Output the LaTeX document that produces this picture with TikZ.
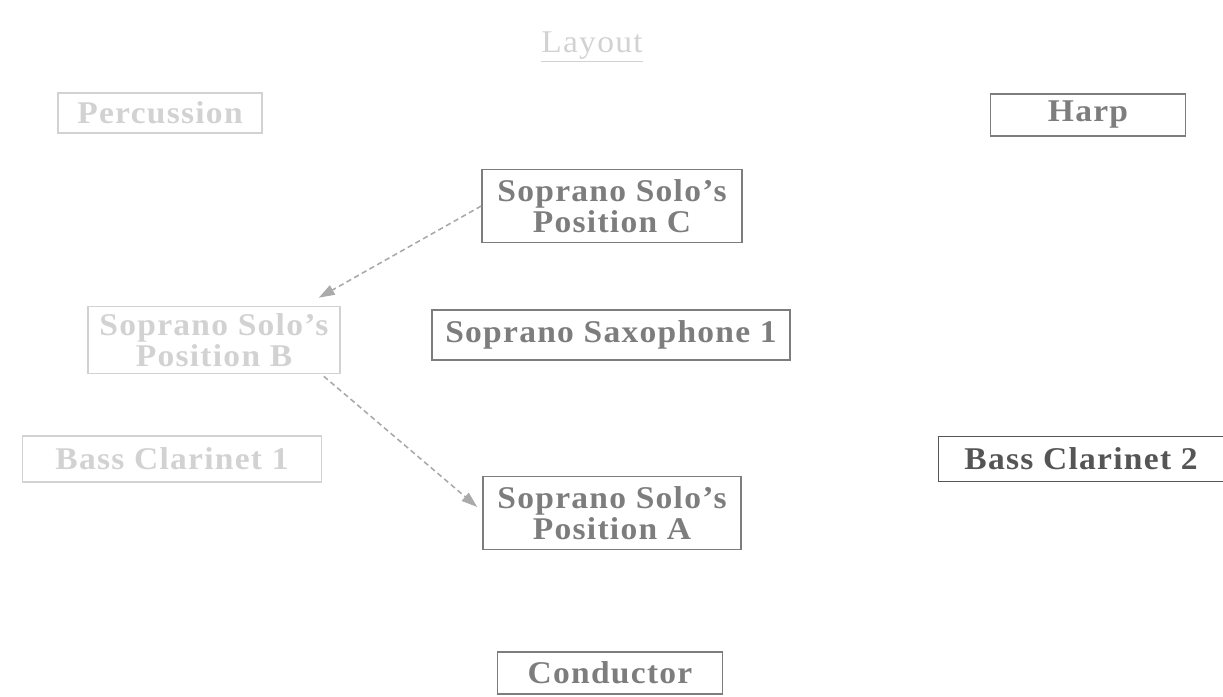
\documentclass[tikz,border=0pt]{standalone}
\usepackage{fontspec}
\setmainfont{Liberation Serif}
\newfontfamily\partfont{Liberation Serif}[FakeStretch=1.06,LetterSpace=4]
\usepackage{tikz}
\usetikzlibrary{calc}
\usetikzlibrary{arrows.meta}
\definecolor{InkDark}{RGB}{85,85,85}
\definecolor{InkMid}{RGB}{125,125,125}
\definecolor{InkPale}{RGB}{170,170,170}
\definecolor{InkFaint}{RGB}{210,210,210}
\tikzset{
	part/.style={draw=#1,text=#1,line width=0.9pt,inner sep=2pt,align=center,
		font=\partfont\bfseries\fontsize{18}{17.5}\selectfont},
	part/.default=InkMid,
	move/.style={draw=InkPale,line width=0.9pt,dash pattern=on 3pt off 2pt,
		-{Triangle[length=9pt,width=6pt]}},
}

\begin{document}
\begin{tikzpicture}[x=0.2mm,y=-0.2mm]
			\useasboundingbox (0,0) rectangle (1223,697);
			\node[InkFaint,font=\partfont\fontsize{18}{21}\selectfont] (layout) at (592,47) {\underline{Layout}};
			\node[part=InkFaint,minimum width=204*0.2mm,minimum height=40*0.2mm] (perc) at (160,113) {Percussion};
			\node[part,minimum width=195*0.2mm,minimum height=42*0.2mm] (harp) at (1088,115) {Harp};
			\node[part,minimum width=260*0.2mm,minimum height=73*0.2mm] (solC) at (612,206) {Soprano Solo’s\\Position C};
			\node[part=InkFaint,minimum width=252*0.2mm,minimum height=67*0.2mm] (solB) at (214,340) {Soprano Solo’s\\Position B};
			\node[part,minimum width=358*0.2mm,minimum height=50*0.2mm] (sax) at (611,335) {Soprano Saxophone 1};
			\node[part=InkFaint,minimum width=299*0.2mm,minimum height=46*0.2mm] (bcA) at (172,459) {Bass Clarinet 1};
			\node[part,minimum width=258*0.2mm,minimum height=73*0.2mm] (solA) at (612,513) {Soprano Solo’s\\Position A};
			\node[part=InkDark,minimum width=285*0.2mm,minimum height=45*0.2mm] (bcB) at (1081,459) {Bass Clarinet 2};
			\node[part,minimum width=225*0.2mm,minimum height=42*0.2mm] (cond) at (610,673) {Conductor};
			% moves of the soprano solo
			\draw[move] (solC.west) -- ($(solB.north east)+(-22,-8)$);
			\draw[move] ($(solB.south east)+(-17,2)$) -- ($(solA.west)+(-5,-6)$);
		\end{tikzpicture}
\end{document}
